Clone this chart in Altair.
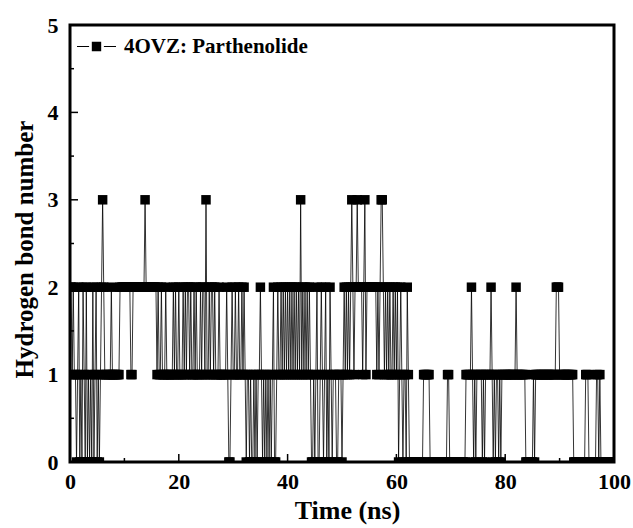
import altair as alt
import pandas as pd

# Hydrogen bond number per frame, one digit per 0.2 ns frame
frame_step_ns = 0.2
hb_00_10 = "2212110120" "1021020101" "0201201012" "3211111121" "1111112222"
hb_10_20 = "2222221122" "2222222223" "2222222222" "1211211121" "1111121211"
hb_20_30 = "2111212122" "1211212111" "2122131121" "2212111211" "1111210012"
hb_30_40 = "1121121121" "2101101001" "0101121010" "1010101200" "1211212121"
hb_40_50 = "2121212121" "2131212121" "2100101200" "1210120102" "1011100111"
hb_50_60 = "0121212123" "2122322221" "2312222222" "2212123321" "2121211212"
hb_60_70 = "1201210110" "2100000000" "0000011111" "1000000000" "0000000110"
hb_70_80 = "0000000000" "0000111112" "1010111110" "1011111210" "1011010111"
hb_80_90 = "1111111111" "2111111110" "0000001011" "1111111111" "1111111222"
hb_90_100 = "1111111111" "1110000000" "0000111000" "0000110100" "0000000000"

series_name = "4OVZ: Parthenolide"
x_major = [0, 20, 40, 60, 80, 100]
x_minor = [10, 30, 50, 70, 90]
y_major = [0, 1, 2, 3, 4, 5]
y_minor = [0.5, 1.5, 2.5, 3.5, 4.5]

chunks = [hb_00_10, hb_10_20, hb_20_30, hb_30_40, hb_40_50,
          hb_50_60, hb_60_70, hb_70_80, hb_80_90, hb_90_100]
values = [int(c) for c in "".join(chunks)]
times = [round(i * frame_step_ns, 1) for i in range(len(values))]
df = pd.DataFrame({"time": times, "hbonds": values, "series": series_name})

W, H = 544, 437
FONT = "Liberation Serif"

xscale = alt.Scale(domain=[0, 100], nice=False, zero=False)
yscale = alt.Scale(domain=[0, 5], nice=False, zero=False)

legend_path = ("M-1,0L-0.38,0M0.38,0L1,0"
               "M-0.21,-0.21L0.21,-0.21L0.21,0.21L-0.21,0.21Z")

axis_style = dict(
    ticks=False, domain=False, grid=False, labelFlush=False, labelOverlap=False,
    labelFont=FONT, labelFontSize=22, labelFontWeight="bold", labelColor="black",
    titleFont=FONT, titleFontWeight="bold", titleColor="black",
)

base = alt.Chart(df)

line = base.mark_line(color="black", strokeWidth=0.8, clip=True).encode(
    x=alt.X("time:Q", scale=xscale,
            axis=alt.Axis(values=x_major, format="d", title="Time (ns)",
                          titleFontSize=26,
                          labelPadding=9, titlePadding=5, titleX=277, **axis_style)),
    y=alt.Y("hbonds:Q", scale=yscale,
            axis=alt.Axis(values=y_major, format="d", title="Hydrogen bond number",
                          titleFontSize=25, titleY=224,
                          labelPadding=12, titlePadding=10, **axis_style)),
    color=alt.Color("series:N", scale=alt.Scale(range=["black"]),
                    legend=alt.Legend(title=None, orient="none", legendX=6, legendY=1,
                                      symbolType=legend_path, symbolSize=1521,
                                      symbolFillColor="black", symbolStrokeColor="black",
                                      symbolStrokeWidth=1.2, labelOffset=7, padding=0,
                                      labelLimit=0,
                                      labelFont=FONT, labelFontSize=21,
                                      labelFontWeight="bold", labelColor="black")),
)

points = base.mark_point(shape="square", size=90, filled=True, color="black",
                         opacity=1, clip=True).encode(
    x=alt.X("time:Q", scale=xscale),
    y=alt.Y("hbonds:Q", scale=yscale),
)

xt_major = alt.Chart(pd.DataFrame({"v": x_major})).mark_rule(color="black", strokeWidth=1.5).encode(
    x=alt.X("v:Q", scale=xscale), y=alt.value(H), y2=alt.value(H - 8))
xt_minor = alt.Chart(pd.DataFrame({"v": x_minor})).mark_rule(color="black", strokeWidth=1.5).encode(
    x=alt.X("v:Q", scale=xscale), y=alt.value(H), y2=alt.value(H - 4))
yt_major = alt.Chart(pd.DataFrame({"v": y_major})).mark_rule(color="black", strokeWidth=1.5).encode(
    y=alt.Y("v:Q", scale=yscale), x=alt.value(0), x2=alt.value(8))
yt_minor = alt.Chart(pd.DataFrame({"v": y_minor})).mark_rule(color="black", strokeWidth=1.5).encode(
    y=alt.Y("v:Q", scale=yscale), x=alt.value(0), x2=alt.value(4))

chart = alt.layer(line, points, xt_major, xt_minor, yt_major, yt_minor).properties(
    width=W, height=H,
    background="white",
    autosize=alt.AutoSizeParams(type="none"),
    padding={"left": 70, "top": 25, "right": 19, "bottom": 66},
).configure_view(
    stroke="black", strokeWidth=3
)

chart.save("out.html", embed_options={"renderer": "svg", "actions": False})
